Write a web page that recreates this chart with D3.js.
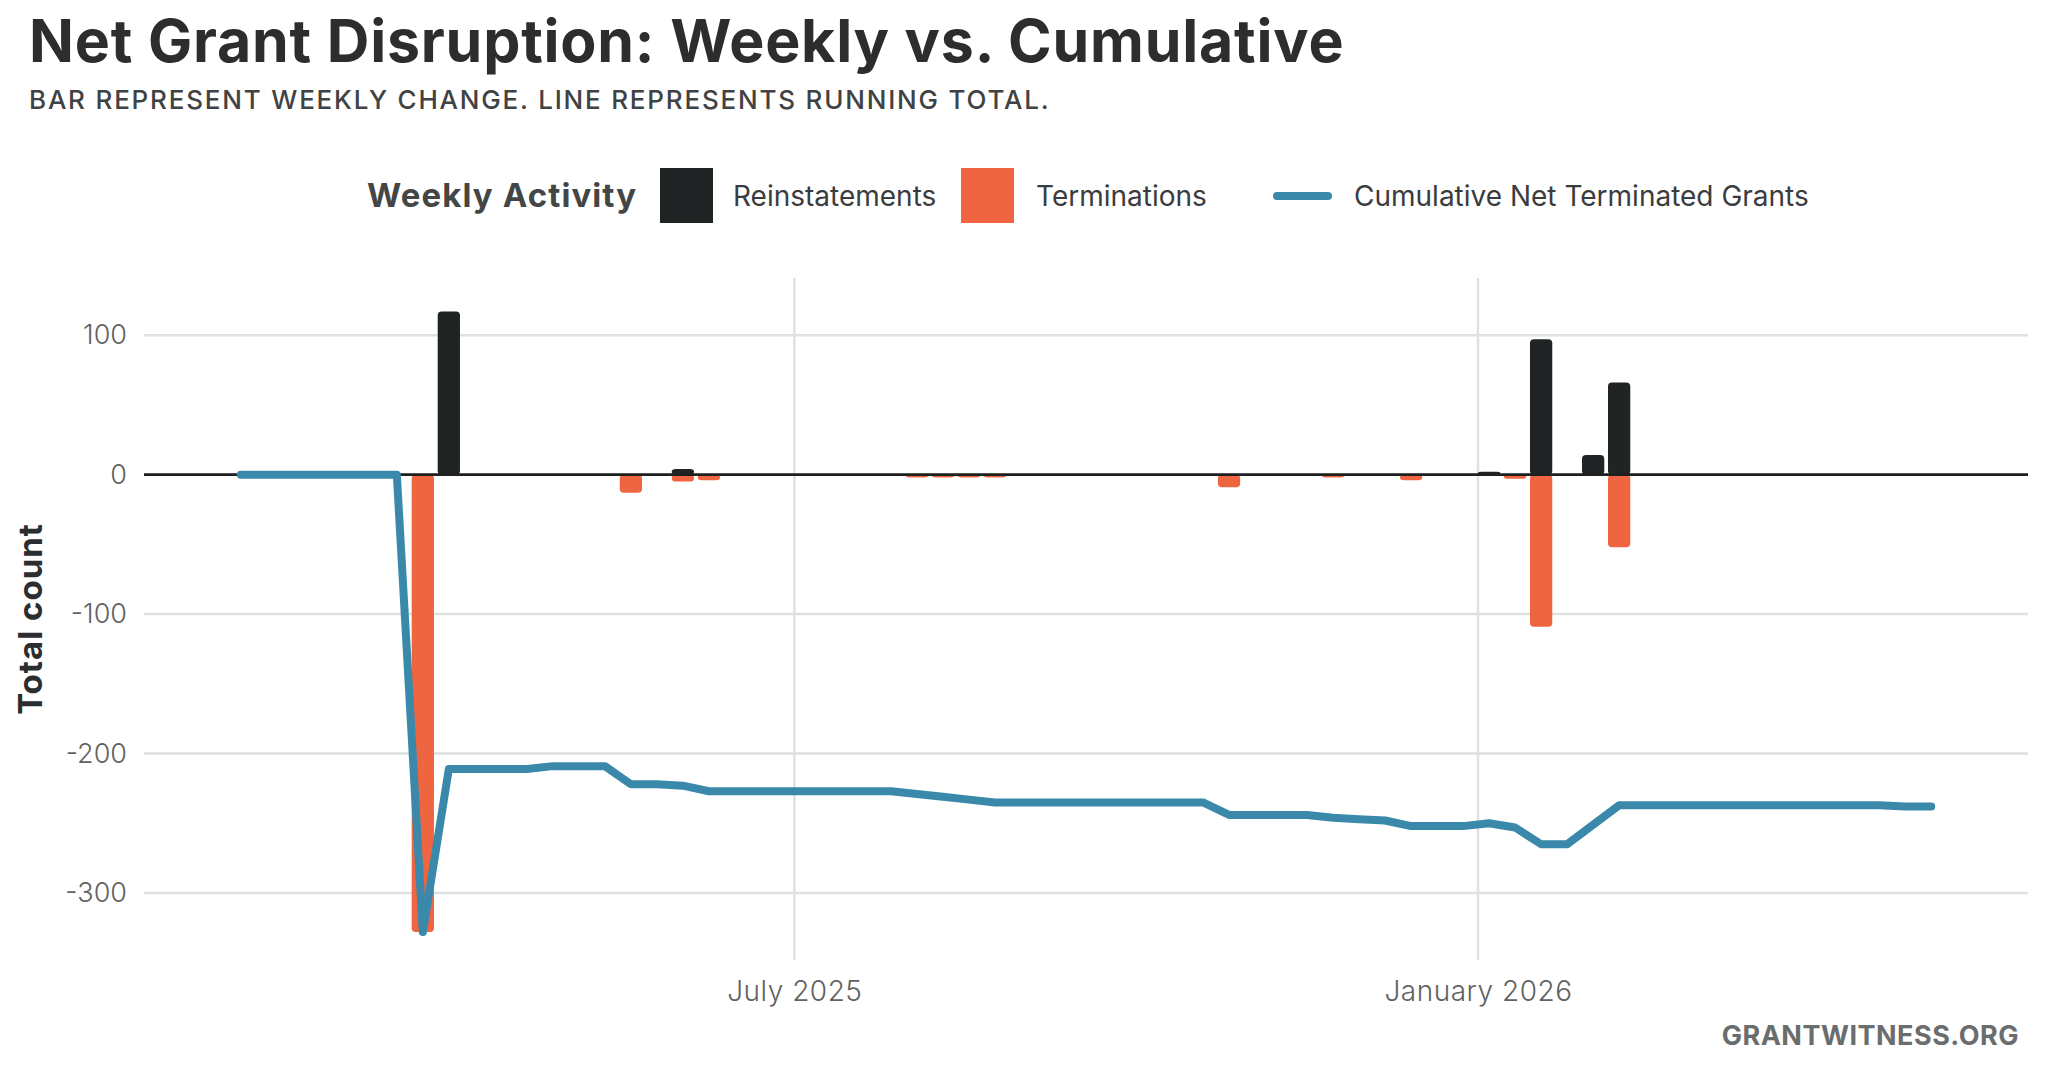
<!DOCTYPE html>
<html>
<head>
<meta charset="utf-8">
<script src="https://cdn.jsdelivr.net/npm/d3@7"></script>
<style>
  body { margin: 0; background: #fff; }
  svg { display: block; font-family: Inter, Roboto, "Noto Sans", sans-serif; }
</style>
</head>
<body>
<svg id="chart" width="2048" height="1070"></svg>
<script>
(function () {
  'use strict';

  // weekly buckets (week starting Sunday)
  var weeks = [
    "2025-02-02", "2025-02-09", "2025-02-16", "2025-02-23", "2025-03-02", "2025-03-09",
    "2025-03-16", "2025-03-23", "2025-03-30", "2025-04-06", "2025-04-13", "2025-04-20",
    "2025-04-27", "2025-05-04", "2025-05-11", "2025-05-18", "2025-05-25", "2025-06-01",
    "2025-06-08", "2025-06-15", "2025-06-22", "2025-06-29", "2025-07-06", "2025-07-13",
    "2025-07-20", "2025-07-27", "2025-08-03", "2025-08-10", "2025-08-17", "2025-08-24",
    "2025-08-31", "2025-09-07", "2025-09-14", "2025-09-21", "2025-09-28", "2025-10-05",
    "2025-10-12", "2025-10-19", "2025-10-26", "2025-11-02", "2025-11-09", "2025-11-16",
    "2025-11-23", "2025-11-30", "2025-12-07", "2025-12-14", "2025-12-21", "2025-12-28",
    "2026-01-04", "2026-01-11", "2026-01-18", "2026-01-25", "2026-02-01", "2026-02-08",
    "2026-02-15", "2026-02-22", "2026-03-01", "2026-03-08", "2026-03-15", "2026-03-22",
    "2026-03-29", "2026-04-05", "2026-04-12", "2026-04-19", "2026-04-26", "2026-05-03"
  ];

  var reinstatements = [
    0, 0, 0, 0, 0, 0, 0, 0, 117, 0, 0, 0,
    0, 0, 0, 0, 0, 4, 0, 0, 0, 0, 0, 0,
    0, 0, 0, 0, 0, 0, 0, 0, 0, 0, 0, 0,
    0, 0, 0, 0, 0, 0, 0, 0, 0, 0, 0, 0,
    2, 0, 97, 0, 14, 66, 0, 0, 0, 0, 0, 0,
    0, 0, 0, 0, 0, 0
  ];

  var terminations = [
    0, 0, 0, 0, 0, 0, 0, -328, 0, 0, 0, 0,
    0, 0, 0, -13, 0, -5, -4, 0, 0, 0, 0, 0,
    0, 0, -2, -2, -2, -2, 0, 0, 0, 0, 0, 0,
    0, 0, -9, 0, 0, 0, -2, 0, 0, -4, 0, 0,
    0, -3, -109, 0, 0, -52, 0, 0, 0, 0, 0, 0,
    0, 0, 0, 0, 0, 0
  ];

  var cumulative = [
    0, 0, 0, 0, 0, 0, 0, -328, -211, -211, -211, -211,
    -209, -209, -209, -222, -222, -223, -227, -227, -227, -227, -227, -227,
    -227, -227, -229, -231, -233, -235, -235, -235, -235, -235, -235, -235,
    -235, -235, -244, -244, -244, -244, -246, -247, -248, -252, -252, -252,
    -250, -253, -265, -265, -251, -237, -237, -237, -237, -237, -237, -237,
    -237, -237, -237, -237, -238, -238
  ];

  var yTicks = [100, 0, -100, -200, -300];
  var xTicks = ["2025-07-01", "2026-01-01"];
  var legendLabels = ["Reinstatements", "Terminations", "Cumulative Net Terminated Grants"];

  var colors = {
    reinst: "#212425",
    term: "#ef6540",
    line: "#3a89ab",
    grid: "#dde1e1",
    text: "#2b2d2e",
    muted: "#5f6363"
  };

  var svg = d3.select("#chart");
  var panel = {left: 144, right: 2028, top: 278, bottom: 960};

  var parse = d3.timeParse("%Y-%m-%d");
  var dates = weeks.map(parse);
  var halfBar = 3; // bars are 6 days wide

  var x = d3.scaleTime()
      .domain([d3.timeDay.offset(dates[0], -halfBar), d3.timeDay.offset(dates[dates.length - 1], halfBar)])
      .range([panel.left, panel.right]);
  // ggplot-like 5% expansion
  var xd = x.domain().map(Number), xpad = (xd[1] - xd[0]) * 0.05;
  x.domain([new Date(xd[0] - xpad), new Date(xd[1] + xpad)]);

  var y = d3.scaleLinear()
      .domain([-348, 141])
      .range([panel.bottom, panel.top]);

  // gridlines
  svg.append("g").selectAll("line")
      .data(yTicks)
    .enter().append("line")
      .attr("x1", panel.left).attr("x2", panel.right)
      .attr("y1", function (d) { return y(d); })
      .attr("y2", function (d) { return y(d); })
      .attr("stroke", colors.grid)
      .attr("stroke-width", 2.5);

  svg.append("g").selectAll("line")
      .data(xTicks.map(parse))
    .enter().append("line")
      .attr("x1", function (d) { return x(d); })
      .attr("x2", function (d) { return x(d); })
      .attr("y1", panel.top).attr("y2", panel.bottom)
      .attr("stroke", colors.grid)
      .attr("stroke-width", 2.5);

  // axes
  var yAxis = svg.append("g")
      .attr("transform", "translate(" + panel.left + ",0)")
      .call(d3.axisLeft(y).tickValues(yTicks).tickSize(0).tickPadding(17)
        .tickFormat(function (d) { return String(d); }));
  yAxis.select(".domain").remove();
  yAxis.selectAll("text")
      .attr("fill", colors.muted)
      .style("font-size", "27px")
      .style("font-weight", 300)
      .style("font-family", "Inter, sans-serif");

  var xAxis = svg.append("g")
      .attr("transform", "translate(0," + panel.bottom + ")")
      .call(d3.axisBottom(x).tickValues(xTicks.map(parse)).tickSize(0).tickPadding(21)
        .tickFormat(d3.timeFormat("%B %Y")));
  xAxis.select(".domain").remove();
  xAxis.selectAll("text")
      .attr("fill", colors.muted)
      .style("font-size", "28px")
      .style("font-weight", 300)
      .style("letter-spacing", "0.5px")
      .style("font-family", "Inter, sans-serif");

  // bars
  function drawBars(values, fill) {
    var rows = dates.map(function (d, i) { return {date: d, value: values[i]}; })
        .filter(function (r) { return r.value !== 0; });
    svg.append("g").selectAll("rect")
        .data(rows)
      .enter().append("rect")
        .attr("x", function (d) { return x(d3.timeDay.offset(d.date, -halfBar)); })
        .attr("width", function (d) {
          return x(d3.timeDay.offset(d.date, halfBar)) - x(d3.timeDay.offset(d.date, -halfBar));
        })
        .attr("y", function (d) { return y(Math.max(0, d.value)); })
        .attr("height", function (d) { return Math.abs(y(d.value) - y(0)); })
        .attr("rx", 4)
        .attr("fill", fill);
  }
  drawBars(reinstatements, colors.reinst);
  drawBars(terminations, colors.term);

  // zero line
  svg.append("line")
      .attr("x1", panel.left).attr("x2", panel.right)
      .attr("y1", y(0)).attr("y2", y(0))
      .attr("stroke", "#1e2020")
      .attr("stroke-width", 2.6);

  // running total
  var line = d3.line()
      .x(function (d, i) { return x(dates[i]); })
      .y(function (d) { return y(d); });

  svg.append("path")
      .attr("d", line(cumulative))
      .attr("fill", "none")
      .attr("stroke", colors.line)
      .attr("stroke-width", 8)
      .attr("stroke-linejoin", "round")
      .attr("stroke-linecap", "round");

  // titles
  svg.append("text")
      .attr("x", 29).attr("y", 62)
      .attr("fill", colors.text)
      .style("font-size", "59px").style("font-weight", 700)
      .style("letter-spacing", "0.8px")
      .text("Net Grant Disruption: Weekly vs. Cumulative");

  svg.append("text")
      .attr("x", 29).attr("y", 109)
      .attr("fill", "#404243")
      .style("font-size", "26px").style("font-weight", 500)
      .style("letter-spacing", "1.8px")
      .text("BAR REPRESENT WEEKLY CHANGE. LINE REPRESENTS RUNNING TOTAL.");

  svg.append("text")
      .attr("transform", "translate(42," + ((panel.top + panel.bottom) / 2) + ") rotate(-90)")
      .attr("text-anchor", "middle")
      .attr("fill", colors.text)
      .style("font-size", "33px").style("font-weight", 700)
      .style("letter-spacing", "1px")
      .text("Total count");

  svg.append("text")
      .attr("x", 2019).attr("y", 1045)
      .attr("text-anchor", "end")
      .attr("fill", "#6a6d6d")
      .style("font-size", "27px").style("font-weight", 700)
      .style("letter-spacing", "0.5px")
      .text("GRANTWITNESS.ORG");

  // legend
  var legend = svg.append("g");
  legend.append("text")
      .attr("x", 367).attr("y", 207)
      .attr("fill", "#444646")
      .style("font-size", "33px").style("font-weight", 700)
      .style("letter-spacing", "1.1px")
      .text("Weekly Activity");

  var keys = [
    {x: 660, label: legendLabels[0], fill: colors.reinst, tx: 733},
    {x: 961, label: legendLabels[1], fill: colors.term, tx: 1036}
  ];
  keys.forEach(function (k) {
    legend.append("rect")
        .attr("x", k.x).attr("y", 168)
        .attr("width", 53).attr("height", 55)
        .attr("fill", k.fill);
    legend.append("text")
        .attr("x", k.tx).attr("y", 206)
        .attr("fill", "#3a3c3d")
        .style("font-size", "28px")
        .style("font-weight", 400)
        .text(k.label);
  });

  legend.append("line")
      .attr("x1", 1277).attr("x2", 1328)
      .attr("y1", 196).attr("y2", 196)
      .attr("stroke", colors.line)
      .attr("stroke-width", 8)
      .attr("stroke-linecap", "round");
  legend.append("text")
      .attr("x", 1354).attr("y", 206)
      .attr("fill", "#3a3c3d")
      .style("font-size", "28px")
      .style("font-weight", 400)
      .text(legendLabels[2]);
})();
</script>
</body>
</html>
